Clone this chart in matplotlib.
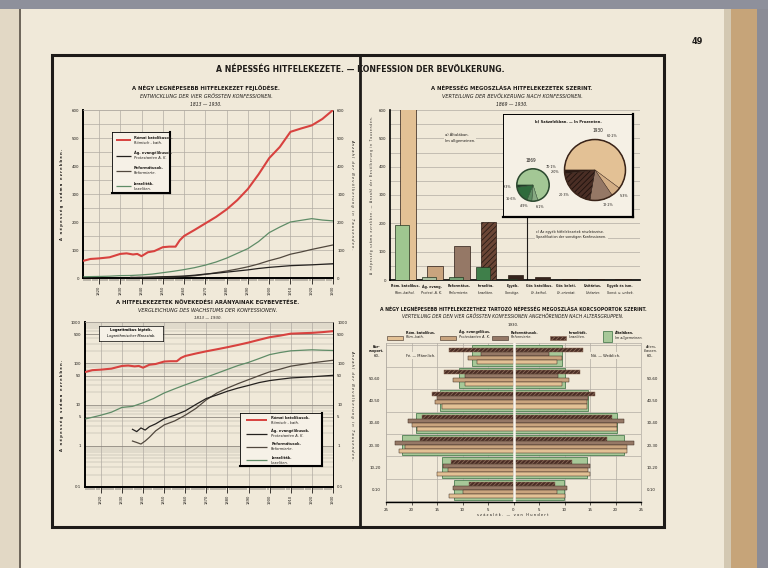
import numpy as np
import matplotlib
matplotlib.use('Agg')
import matplotlib.pyplot as plt
from matplotlib import font_manager
from matplotlib.patches import Rectangle, Circle
from matplotlib.lines import Line2D
from matplotlib.ticker import LogLocator, NullFormatter
from matplotlib.transforms import blended_transform_factory

# ---- data -------------------------------------------------------------
# growth of the four largest confessions (thousands)
years_rk = [1813, 1816, 1820, 1825, 1830, 1833, 1836, 1838, 1840, 1843,
            1846, 1850, 1853, 1856, 1858, 1860, 1865, 1870, 1875, 1880,
            1885, 1890, 1895, 1900, 1905, 1910, 1915, 1920, 1925, 1930]
rk = [62, 68, 70, 74, 86, 88, 84, 86, 78, 92,
      96, 110, 112, 112, 135, 150, 172, 195, 218, 245,
      278, 318, 370, 428, 468, 522, 534, 545, 568, 600]

years_ev = [1835, 1837, 1839, 1841, 1843, 1846, 1850, 1855, 1860, 1865,
            1870, 1875, 1880, 1885, 1890, 1895, 1900, 1905, 1910, 1920, 1930]
ev = [2.5, 2.2, 2.7, 2.4, 2.9, 3.4, 4.5, 5.5, 7.0, 10,
      14, 17, 21, 25, 29, 34, 38, 41, 44, 47, 51]

years_ref = [1835, 1837, 1839, 1841, 1843, 1846, 1850, 1855, 1860, 1865,
             1870, 1875, 1880, 1885, 1890, 1895, 1900, 1905, 1910, 1915,
             1920, 1925, 1930]
ref = [1.3, 1.2, 1.1, 1.3, 1.6, 2.3, 3.2, 4.0, 5.5, 8,
       13, 19, 25, 32, 40, 50, 62, 72, 85, 93,
       102, 110, 118]

years_izr = [1813, 1820, 1825, 1830, 1835, 1840, 1845, 1850, 1855, 1860,
             1865, 1870, 1875, 1880, 1885, 1890, 1895, 1900, 1905, 1910,
             1915, 1920, 1925, 1930]
izr = [4.5, 5.5, 6.5, 8.5, 9, 11, 14, 19, 24, 30,
       37, 46, 57, 71, 88, 105, 130, 162, 182, 200,
       206, 212, 207, 204]

# distribution by confession 1869 / 1930 (thousands)
cat_hu = ['Róm. katolikus.', 'Ág. evang.', 'Református.', 'Izraelita.', 'Egyéb.',
          'Gör. katolikus.', 'Gör. keleti.', 'Unitárius.', 'Egyéb és ism.']
cat_de = ['Röm.-kathol.', 'Protest. A. K.', 'Reformierte.', 'Israeliten.', 'Sonstige.',
          'Gr.-kathol.', 'Gr.-orientat.', 'Unitarier.', 'Sonst. u. unbek.']
pop_1869 = [195, 11, 10, 45, 3, 0, 0, 0, 0]
pop_1930 = [605, 50, 120, 204, 18, 10, 5, 4, 3]

# percentages (rk, ev, ref, izr, other)
pct_1869 = [70.1, 6.1, 4.9, 16.6, 2.3]
pct_1930 = [60.2, 5.3, 12.2, 20.3, 2.0]

# age groups 1930, percent, males / females
age_groups = ['0-10', '10-20', '20-30', '30-40', '40-50', '50-60', '60-']
all_m = [11.6, 14.0, 21.9, 19.1, 14.5, 10.6, 8.2]
all_f = [9.9, 14.4, 21.6, 20.3, 14.7, 10.1, 9.5]
izr_m = [8.8, 12.3, 18.4, 18.0, 16.0, 13.7, 12.7]
izr_f = [8.2, 11.4, 18.4, 19.3, 16.0, 13.1, 13.7]
ref_m = [11.8, 13.9, 23.2, 20.6, 15.0, 9.5, 6.4]
ref_f = [10.5, 15.0, 23.7, 21.6, 14.7, 8.8, 7.0]
ev_m = [10.0, 12.9, 21.2, 19.9, 15.4, 11.8, 9.0]
ev_f = [8.5, 14.7, 22.2, 20.3, 14.4, 10.8, 9.5]
rk_m = [12.7, 15.0, 22.5, 19.0, 14.1, 9.5, 7.2]
rk_f = [10.1, 15.0, 22.2, 20.3, 14.4, 9.5, 8.5]

# ---- style ------------------------------------------------------------
names = {f.name for f in font_manager.fontManager.ttflist}
FONT = 'Liberation Sans Narrow' if 'Liberation Sans Narrow' in names else 'DejaVu Sans'
plt.rcParams['font.family'] = FONT
plt.rcParams['font.stretch'] = 'condensed'
plt.rcParams['hatch.linewidth'] = 0.6

PAGE = '#f0e9d9'
INK = '#1e1b18'
GRID = '#b2aca3'
RED = '#d8423f'
C_EV = '#24211f'
C_REF = '#51483e'
C_IZR = '#5f8c67'
TAN = '#e3c195'
TAN2 = '#c9a47e'
BROWN = '#957866'
DARK = '#4d3028'
GREEN = '#a7c898'

W, H = 768, 568


def box(x0, y0, x1, y1):
    return [x0 / W, 1 - y1 / H, (x1 - x0) / W, (y1 - y0) / H]


def ftext(x, y, s, **kw):
    kw.setdefault('ha', 'center')
    kw.setdefault('va', 'center')
    kw.setdefault('color', INK)
    return fig.text(x / W, 1 - y / H, s, **kw)


def frect(x0, y0, x1, y1, **kw):
    r = Rectangle((x0 / W, 1 - y1 / H), (x1 - x0) / W, (y1 - y0) / H,
                  transform=fig.transFigure, **kw)
    fig.patches.append(r)
    return r


def spaced(s):
    return ' '.join(s)


fig = plt.figure(figsize=(7.68, 5.68), dpi=100)
fig.patch.set_facecolor(PAGE)

# book around the page
frect(0, 0, 19, H, facecolor='#e2d8c5', edgecolor='none', zorder=0)
frect(19, 0, 21, H, facecolor='#6f675c', edgecolor='none', zorder=0)
frect(724, 0, 731, H, facecolor='#d3c8b2', edgecolor='none', zorder=0)
frect(731, 0, 757, H, facecolor='#c6a479', edgecolor='none', zorder=0)
frect(757, 0, W, H, facecolor='#8b8c96', edgecolor='none', zorder=0)
frect(0, 0, W, 9, facecolor='#8e909b', edgecolor='none', zorder=0)

# frame
frect(52, 55, 664, 527, facecolor='none', edgecolor=INK, lw=2.2, zorder=10)
fig.add_artist(Line2D([360 / W, 360 / W], [1 - 55 / H, 1 - 527 / H], color=INK, lw=2.0, zorder=10))

ftext(697, 42, '49', fontsize=6.5, weight='bold')
ftext(360, 70, 'A NÉPESSÉG HITFELEKEZETE. — KONFESSION DER BEVÖLKERUNG.', fontsize=6.2, weight='bold')


def legend_box(rect, entries):
    lax = fig.add_axes(box(*rect))
    lax.set_facecolor('#f6f1e7')
    lax.set_xlim(0, 1)
    lax.set_ylim(0, 1)
    lax.set_xticks([])
    lax.set_yticks([])
    for side in ['top', 'left']:
        lax.spines[side].set_linewidth(0.6)
    for side in ['right', 'bottom']:
        lax.spines[side].set_linewidth(1.5)
    n = len(entries)
    for i, (color, lw, hu, de) in enumerate(entries):
        yc = 1 - (i + 0.55) / n
        lax.plot([0.07, 0.33], [yc, yc], color=color, lw=lw, solid_capstyle='butt')
        lax.text(0.38, yc + 0.01, hu, fontsize=2.9, weight='bold', va='bottom', color=INK)
        lax.text(0.38, yc - 0.01, de, fontsize=2.9, style='italic', va='top', color=INK)
    return lax


entries = [(RED, 1.4, 'Római katolikusok.', 'Römisch - kath.'),
           (C_EV, 0.9, 'Ág. evangélikusok.', 'Protestanten A. K.'),
           (C_REF, 0.9, 'Reformátusok.', 'Reformierte.'),
           (C_IZR, 0.9, 'Izraeliták.', 'Israeliten.')]


def year_axis(ax):
    ax.set_xlim(1812.5, 1930)
    ax.set_xticks(range(1820, 1931, 10))
    ax.set_xticks(range(1813, 1931), minor=True)
    ax.set_xticklabels([str(y) for y in range(1820, 1931, 10)], rotation=90, fontsize=3)
    ax.tick_params(axis='x', which='major', length=4, width=0.6, pad=1.5, colors=INK)
    ax.tick_params(axis='x', which='minor', length=2, width=0.35, colors=INK)
    ax.grid(which='major', axis='x', color=GRID, lw=0.5)
    ax.set_facecolor('none')
    ax.spines['left'].set_linewidth(1.4)
    ax.spines['bottom'].set_linewidth(1.4)
    ax.spines['right'].set_linewidth(0.7)
    ax.spines['top'].set_linewidth(0.5)
    ax.spines['top'].set_color(GRID)
    ax.set_axisbelow(True)


def draw_series(ax):
    ax.plot(years_izr, izr, color=C_IZR, lw=0.9, zorder=3)
    ax.plot(years_ref, ref, color=C_REF, lw=0.9, zorder=3)
    ax.plot(years_ev, ev, color=C_EV, lw=0.9, zorder=3)
    ax.plot(years_rk, rk, color=RED, lw=1.5, zorder=4)


# ---- top-left: linear growth ------------------------------------------
ftext(206, 88, 'A NÉGY LEGNÉPESEBB HITFELEKEZET FEJLŐDÉSE.', fontsize=4.2, weight='bold')
ftext(206, 97, 'ENTWICKLUNG DER VIER GRÖSSTEN KONFESSIONEN.', fontsize=4.0, style='italic')
ftext(206, 105, '1813 — 1930.', fontsize=3.6, style='italic')

ax1 = fig.add_axes(box(83, 110, 333, 278))
year_axis(ax1)
ax1.set_ylim(0, 600)
ax1.set_yticks(range(0, 601, 100))
ax1.set_yticks(range(0, 601, 50), minor=True)
ax1.tick_params(axis='y', which='both', length=0, labelsize=3.2, pad=3, colors=INK)
ax1.grid(which='both', axis='y', color=GRID, lw=0.5)
draw_series(ax1)
ax1r = ax1.twinx()
ax1r.set_ylim(0, 600)
ax1r.set_yticks(range(0, 601, 100))
ax1r.tick_params(axis='y', length=0, labelsize=3.2, pad=3, colors=INK)
for s in ax1r.spines.values():
    s.set_visible(False)
legend_box((112, 132, 170, 193), entries)

ftext(62, 194, spaced('A népesség száma ezrekben.'), fontsize=3.0, weight='bold', rotation=90)
ftext(352, 194, spaced('Anzahl der Bevölkerung in Tausenden.'), fontsize=3.0, style='italic', rotation=270)

# ---- bottom-left: logarithmic comparison ---------------------------------
ftext(208, 302, 'A HITFELEKEZETEK NÖVEKEDÉSI ARÁNYAINAK EGYBEVETÉSE.', fontsize=4.2, weight='bold')
ftext(208, 311, 'VERGLEICHUNG DES WACHSTUMS DER KONFESSIONEN.', fontsize=4.0, style='italic')
ftext(208, 318, '1813 — 1930.', fontsize=3.2, style='italic')

log_ticks = [0.1, 1, 5, 10, 50, 100, 500, 1000]
log_labels = ['0·1', '1', '5', '10', '50', '100', '500', '1000']

ax2 = fig.add_axes(box(85, 322, 333, 487))
year_axis(ax2)
ax2.set_yscale('log')
ax2.set_ylim(0.1, 1000)
ax2.set_yticks(log_ticks)
ax2.set_yticklabels(log_labels)
ax2.yaxis.set_minor_locator(LogLocator(base=10, subs=np.arange(2, 10)))
ax2.yaxis.set_minor_formatter(NullFormatter())
ax2.tick_params(axis='y', which='both', length=0, labelsize=3.2, pad=3, colors=INK)
ax2.grid(which='major', axis='y', color='#8d877f', lw=0.6)
ax2.grid(which='minor', axis='y', color=GRID, lw=0.35)
draw_series(ax2)
ax2r = ax2.twinx()
ax2r.set_yscale('log')
ax2r.set_ylim(0.1, 1000)
ax2r.set_yticks(log_ticks)
ax2r.set_yticklabels(log_labels)
ax2r.yaxis.set_minor_formatter(NullFormatter())
ax2r.tick_params(axis='y', which='both', length=0, labelsize=3.2, pad=3, colors=INK)
for s in ax2r.spines.values():
    s.set_visible(False)

nax = fig.add_axes(box(99, 326, 163, 341))
nax.set_facecolor('#f6f1e7')
nax.set_xticks([])
nax.set_yticks([])
for s in nax.spines.values():
    s.set_linewidth(0.5)
nax.text(0.5, 0.7, 'Logaritmikus lépték.', fontsize=2.9, weight='bold', ha='center', va='center', transform=nax.transAxes)
nax.text(0.5, 0.3, 'Logarithmischer Massstab.', fontsize=2.9, style='italic', ha='center', va='center', transform=nax.transAxes)

legend_box((240, 413, 322, 466), entries)

ftext(62, 405, spaced('A népesség száma ezrekben.'), fontsize=3.0, weight='bold', rotation=90)
ftext(352, 405, spaced('Anzahl der Bevölkerung in Tausenden.'), fontsize=3.0, style='italic', rotation=270)

# ---- top-right: distribution by confession --------------------------------
ftext(512, 88, 'A NÉPESSÉG MEGOSZLÁSA HITFELEKEZETEK SZERINT.', fontsize=4.2, weight='bold')
ftext(512, 97, 'VERTEILUNG DER BEVÖLKERUNG NACH KONFESSIONEN.', fontsize=4.0, style='italic')
ftext(512, 105, '1869 — 1930.', fontsize=3.6, style='italic')

col_1930 = [TAN, TAN2, BROWN, '#6b4636', '#35241d', '#35241d', '#35241d', '#35241d', '#35241d']
hat_1930 = [None, None, None, '//////', None, None, None, None, None]
col_1869 = ['#9fc690', '#a9c0a0', '#73a074', '#3f7f4a', '#2e4a35', '#2e4a35', '#2e4a35', '#2e4a35', '#2e4a35']

ax3 = fig.add_axes(box(390, 110, 640, 280))
ax3.set_facecolor('none')
xc = np.arange(len(cat_hu))
bars = ax3.bar(xc + 0.11, pop_1930, width=0.58, color=col_1930, edgecolor='#2a1c15', lw=0.5, zorder=3)
for p, h in zip(bars, hat_1930):
    if h:
        p.set_hatch(h)
ax3.bar(xc - 0.11, pop_1869, width=0.53, color=col_1869, edgecolor='#23331f', lw=0.5, zorder=4)
ax3.set_xlim(-0.56, 8.74)
ax3.set_ylim(0, 600)
ax3.set_yticks(range(0, 601, 100))
ax3.set_yticks(range(0, 601, 50), minor=True)
ax3.set_xticks([])
ax3.tick_params(axis='y', which='both', length=0, labelsize=3.2, pad=3, colors=INK)
ax3.grid(which='both', axis='y', color=GRID, lw=0.5)
ax3.set_axisbelow(True)
ax3.spines['left'].set_linewidth(1.2)
ax3.spines['bottom'].set_linewidth(1.2)
ax3.spines['top'].set_visible(False)
ax3.spines['right'].set_visible(False)
ax3.axvline(4.55, ymin=0, ymax=0.37, color=INK, lw=0.8)
tr = blended_transform_factory(ax3.transData, ax3.transAxes)
for xi, hu, de in zip(xc, cat_hu, cat_de):
    ax3.text(xi, -0.025, hu, transform=tr, fontsize=2.6, weight='bold', ha='center', va='top', color=INK)
    ax3.text(xi, -0.065, de, transform=tr, fontsize=2.6, style='italic', ha='center', va='top', color=INK)
ax3.text(0.22, 0.835, 'a) Általában.\nIm allgemeinen.', transform=ax3.transAxes, fontsize=3.0,
         va='center', ha='left', color=INK, linespacing=1.4,
         bbox=dict(facecolor=PAGE, edgecolor='none', pad=0.8))
ax3.text(0.585, 0.27, 'c) Az egyéb hitfelekezetek részletezése.\nSpezifikation der sonstigen Konfessionen.',
         transform=ax3.transAxes, fontsize=2.7, va='center', ha='left', color=INK, linespacing=1.4,
         bbox=dict(facecolor=PAGE, edgecolor='none', pad=0.8))
ftext(372, 195, spaced('A népesség száma ezrekben. — Anzahl der Bevölkerung in Tausenden.'),
      fontsize=2.3, rotation=90)

# inset with the pies
axb = fig.add_axes(box(503, 114, 633, 217))
axb.set_facecolor('#f5f0e5')
axb.set_xticks([])
axb.set_yticks([])
for side in ['top', 'left']:
    axb.spines[side].set_linewidth(0.7)
for side in ['right', 'bottom']:
    axb.spines[side].set_linewidth(1.6)
ftext(568, 122, 'b) Százalékban. — In Prozenten.', fontsize=3.0, weight='bold')
ftext(598, 131, '1930', fontsize=3.4)
ftext(531, 161, '1869', fontsize=3.4)

pie_cols_1930 = [TAN, '#d3ae85', BROWN, '#4a2e25', '#2a1a14']
pie_cols_1869 = ['#a3c795', '#86a982', '#5f8d63', '#2f6b3c', '#1f3a26']


def pct(v):
    return f'{v}%'.replace('.', '·')


def draw_pie(rect, values, colors, rim, hatch_idx=None, dist=1.3):
    pax = fig.add_axes(box(*rect))
    wedges, texts = pax.pie(values, colors=colors, startangle=180, counterclock=False,
                            labels=[pct(v) for v in values], labeldistance=dist,
                            textprops=dict(fontsize=2.7, color=INK),
                            wedgeprops=dict(edgecolor=rim, linewidth=0.3))
    if hatch_idx is not None:
        wedges[hatch_idx].set_hatch('//////')
        wedges[hatch_idx].set_edgecolor('#1e120e')
    pax.add_patch(Circle((0, 0), 1, facecolor='none', edgecolor=rim, lw=1.1))
    pax.set_xlim(-1.05, 1.05)
    pax.set_ylim(-1.05, 1.05)
    pax.set_aspect('equal')
    for t in texts:
        t.set_clip_on(False)
    return pax


draw_pie((516, 168, 550, 202), pct_1869, pie_cols_1869, '#2d4a30', dist=1.35)
draw_pie((563, 138, 627, 202), pct_1930, pie_cols_1930, '#3a2419', hatch_idx=3, dist=1.18)

# ---- bottom-right: age pyramid ------------------------------------------
ftext(513, 309, 'A NÉGY LEGNÉPESEBB HITFELEKEZETHEZ TARTOZÓ NÉPESSÉG MEGOSZLÁSA KORCSOPORTOK SZERINT.',
      fontsize=3.7, weight='bold')
ftext(513, 317, 'VERTEILUNG DER DEN VIER GRÖSSTEN KONFESSIONEN ANGEHÖRENDEN NACH ALTERSGRUPPEN.',
      fontsize=3.6, style='italic')
ftext(513, 325, '1930.', fontsize=3.2)

ax4 = fig.add_axes(box(386, 343, 641, 502))
ax4.set_facecolor('none')
ya = np.arange(len(age_groups))
ax4.barh(ya, -np.array(all_m), height=0.92, color=GREEN, edgecolor='#4f7f53', lw=0.6, zorder=2)
ax4.barh(ya, all_f, height=0.92, color=GREEN, edgecolor='#4f7f53', lw=0.6, zorder=2)
series = [(0.27, izr_m, izr_f, '#4a2d25', '////////'),
          (0.09, ref_m, ref_f, BROWN, None),
          (-0.09, ev_m, ev_f, TAN2, None),
          (-0.27, rk_m, rk_f, TAN, None)]
for off, vm, vf, col, hatch in series:
    for vals, sign in ((vm, -1), (vf, 1)):
        bb = ax4.barh(ya + off, sign * np.array(vals), height=0.18, color=col,
                      edgecolor='#8a6a58' if hatch else '#3b2a20', lw=0.35, zorder=3)
        if hatch:
            for p in bb:
                p.set_hatch(hatch)
ax4.axvline(0, color='#f8f4ec', lw=1.8, zorder=6)
ax4.set_xlim(-25, 25)
ax4.set_ylim(-0.54, 6.57)
ax4.set_xticks(range(-25, 26, 5))
ax4.set_xticklabels([str(abs(v)) for v in range(-25, 26, 5)])
ax4.set_yticks(ya)
ax4.set_yticklabels(age_groups)
ax4.set_yticks(np.arange(-0.5, 6.6, 1), minor=True)
ax4.tick_params(axis='y', which='both', length=0, labelsize=3.2, pad=4, colors=INK)
ax4.tick_params(axis='x', length=2.5, width=0.5, labelsize=3.2, pad=1.5, colors=INK)
ax4.grid(which='major', axis='x', color=GRID, lw=0.5)
ax4.grid(which='minor', axis='y', color=GRID, lw=0.5)
ax4.set_axisbelow(True)
for side in ['top', 'left', 'right']:
    ax4.spines[side].set_linewidth(0.5)
    ax4.spines[side].set_color(GRID)
ax4.spines['bottom'].set_linewidth(1.0)
ax4r = ax4.twinx()
ax4r.set_ylim(-0.54, 6.57)
ax4r.set_yticks(ya)
ax4r.set_yticklabels(age_groups)
ax4r.tick_params(axis='y', length=0, labelsize=3.2, pad=4, colors=INK)
for s in ax4r.spines.values():
    s.set_visible(False)
ax4.text(0.08, 0.92, 'Fé. — Männlich.', transform=ax4.transAxes, fontsize=3.0, ha='left', va='center',
         color=INK, zorder=7, bbox=dict(facecolor=PAGE, edgecolor='none', pad=1.0))
ax4.text(0.92, 0.92, 'Nő. — Weiblich.', transform=ax4.transAxes, fontsize=3.0, ha='right', va='center',
         color=INK, zorder=7, bbox=dict(facecolor=PAGE, edgecolor='none', pad=1.0))
ftext(377, 349, 'Kor-\ncsoport.', fontsize=2.7, weight='bold', linespacing=1.1)
ftext(651, 349, 'Alters-\nklassen.', fontsize=2.7, style='italic', linespacing=1.1)
ftext(513, 515, spaced('százalék. — von Hundert'), fontsize=3.0)

# pyramid legend
lg = fig.add_axes(box(380, 327, 662, 345))
lg.axis('off')
lg.set_xlim(380, 662)
lg.set_ylim(345, 327)
leg_items = [(387, TAN, None, 'Róm. katolikus.', 'Röm.-kath.'),
             (440, TAN2, None, 'Ág. evangélikus.', 'Protestanten A. K.'),
             (492, BROWN, None, 'Reformátusok.', 'Reformierte.'),
             (550, '#4a2d25', '////////', 'Izraeliták.', 'Israeliten.')]
for x0, col, hatch, hu, de in leg_items:
    lg.add_patch(Rectangle((x0, 335.5), 16, 4.5, facecolor=col, hatch=hatch,
                           edgecolor='#8a6a58' if hatch else '#3b2a20', lw=0.4))
    lg.text(x0 + 19, 334.5, hu, fontsize=2.7, weight='bold', va='bottom', ha='left', color=INK)
    lg.text(x0 + 19, 335.5, de, fontsize=2.7, style='italic', va='top', ha='left', color=INK)
lg.add_patch(Rectangle((603, 330.5), 9, 11, facecolor=GREEN, edgecolor='#4f7f53', lw=0.6))
lg.text(615, 334.5, 'Általában.', fontsize=2.7, weight='bold', va='bottom', ha='left', color=INK)
lg.text(615, 335.5, 'Im allgemeinen.', fontsize=2.7, style='italic', va='top', ha='left', color=INK)

fig.savefig('out.png', dpi=100, facecolor=fig.get_facecolor())
